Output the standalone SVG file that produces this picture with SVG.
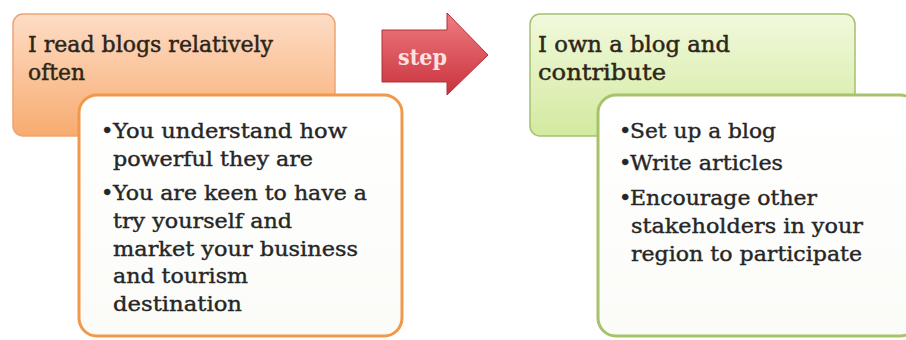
<svg xmlns="http://www.w3.org/2000/svg" width="906" height="340" viewBox="0 0 906 340">
<defs>
<linearGradient id="gOr" x1="0" y1="0" x2="0" y2="1">
<stop offset="0" stop-color="#fdddc6"/>
<stop offset="1" stop-color="#f8ab70"/>
</linearGradient>
<linearGradient id="gGr" x1="0" y1="0" x2="0" y2="1">
<stop offset="0" stop-color="#f1f9dd"/>
<stop offset="1" stop-color="#d3ea9f"/>
</linearGradient>
<linearGradient id="gRd" x1="0" y1="0" x2="0" y2="1">
<stop offset="0" stop-color="#f07c82"/>
<stop offset="1" stop-color="#c8323c"/>
</linearGradient>
<linearGradient id="gWh" x1="0" y1="0" x2="0" y2="1">
<stop offset="0" stop-color="#ffffff"/>
<stop offset="1" stop-color="#fbfcf8"/>
</linearGradient>
</defs>
<style>
.t{font-family:"DejaVu Serif","Liberation Serif",serif;font-size:22px;fill:#2e2418;stroke:#2e2418;stroke-width:0.45}
.b{font-family:"DejaVu Serif","Liberation Serif",serif;font-size:21px;fill:#262626;stroke:#262626;stroke-width:0.4}
.s{font-family:"DejaVu Serif","Liberation Serif",serif;font-size:22px;font-weight:bold;fill:#fbe0e0}
.orb{fill:url(#gOr);stroke:#eba574;stroke-width:1.5}
.grb{fill:url(#gGr);stroke:#a4c070;stroke-width:1.5}
.owh{fill:url(#gWh);stroke:#f0984c;stroke-width:3}
.gwh{fill:url(#gWh);stroke:#a6c26a;stroke-width:3}
</style>
<rect width="906" height="340" fill="#ffffff"/>
<g id="node-read">
<rect class="orb" x="13" y="14" width="322" height="122" rx="10"/>
<text class="t" x="28" y="52" textLength="245" lengthAdjust="spacingAndGlyphs">I read blogs relatively</text>
<text class="t" x="28" y="80" textLength="57" lengthAdjust="spacingAndGlyphs">often</text>
</g>
<g id="node-read-detail">
<rect class="owh" x="79" y="95" width="323" height="241" rx="18"/>
<text class="b" x="101" y="138">•</text>
<text class="b" x="113" y="138" textLength="234" lengthAdjust="spacingAndGlyphs">You understand how</text>
<text class="b" x="113" y="166" textLength="200" lengthAdjust="spacingAndGlyphs">powerful they are</text>
<text class="b" x="101" y="200">•</text>
<text class="b" x="113" y="200" textLength="254" lengthAdjust="spacingAndGlyphs">You are keen to have a</text>
<text class="b" x="113" y="228" textLength="179" lengthAdjust="spacingAndGlyphs">try yourself and</text>
<text class="b" x="113" y="256" textLength="245" lengthAdjust="spacingAndGlyphs">market your business</text>
<text class="b" x="113" y="283" textLength="135" lengthAdjust="spacingAndGlyphs">and tourism</text>
<text class="b" x="113" y="311" textLength="129" lengthAdjust="spacingAndGlyphs">destination</text>
</g>
<g id="connectors">
<g id="step-arrow">
<path d="M382,30 L447,30 L447,13 L488,55 L447,95 L447,82 L382,82 Z" fill="url(#gRd)" stroke="#b03038" stroke-width="1"/>
<text class="s" x="398" y="65" textLength="49" lengthAdjust="spacingAndGlyphs">step</text>
</g>
</g>
<g id="node-own">
<rect class="grb" x="530" y="14" width="325" height="122" rx="10"/>
<text class="t" x="538" y="52" textLength="192" lengthAdjust="spacingAndGlyphs">I own a blog and</text>
<text class="t" x="538" y="80" textLength="128" lengthAdjust="spacingAndGlyphs">contribute</text>
</g>
<g id="node-own-detail">
<rect class="gwh" x="598" y="95" width="320" height="241" rx="18"/>
<text class="b" x="619" y="138">•</text>
<text class="b" x="630" y="138" textLength="146" lengthAdjust="spacingAndGlyphs">Set up a blog</text>
<text class="b" x="619" y="170">•</text>
<text class="b" x="630" y="170" textLength="153" lengthAdjust="spacingAndGlyphs">Write articles</text>
<text class="b" x="619" y="205">•</text>
<text class="b" x="630" y="205" textLength="187" lengthAdjust="spacingAndGlyphs">Encourage other</text>
<text class="b" x="631" y="233" textLength="232" lengthAdjust="spacingAndGlyphs">stakeholders in your</text>
<text class="b" x="631" y="261" textLength="231" lengthAdjust="spacingAndGlyphs">region to participate</text>
</g>
</svg>
